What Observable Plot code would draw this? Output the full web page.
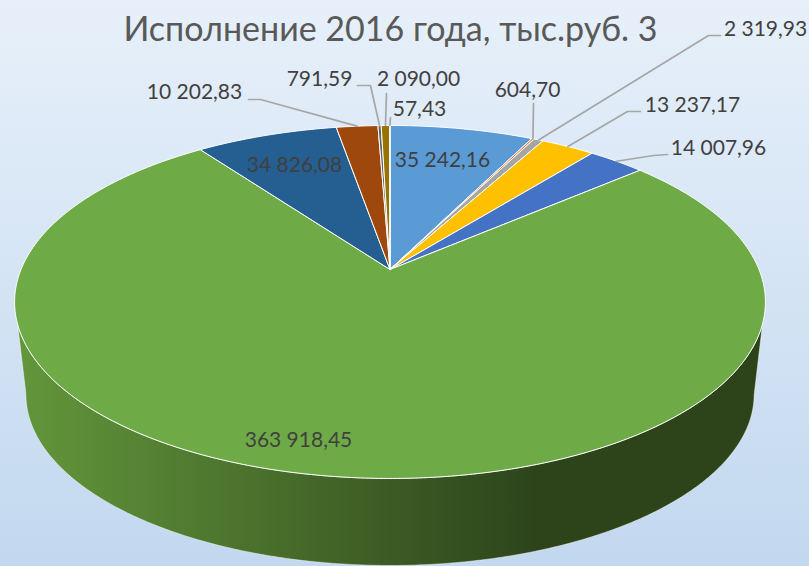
<!DOCTYPE html>
<html>
<head>
<meta charset="utf-8">
<script src="https://cdn.jsdelivr.net/npm/d3@7"></script>
<script src="https://cdn.jsdelivr.net/npm/@observablehq/plot@0.6"></script>
<style>
html,body{margin:0;padding:0;width:809px;height:566px;overflow:hidden;background:linear-gradient(180deg,#E7F0FA 0%,#C2D8EF 100%);}
svg{display:block;}
</style>
</head>
<body>
<script>
const titleText = "Исполнение 2016 года, тыс.руб. 3";
const sliceLabels = ["35 242,16","604,70","2 319,93","13 237,17","14 007,96","363 918,45","34 826,08","10 202,83","791,59","2 090,00","57,43"];
const sliceValues = [35242.16,604.70,2319.93,13237.17,14007.96,363918.45,34826.08,10202.83,791.59,2090.00,57.43];
const sliceColors = ["#5B9BD5","#ED7D31","#A5A5A5","#FFC000","#4472C4","#6EAB47","#255E91","#9E480E","#636363","#997300","#264478"];

// Label placement, one entry per slice, in the same order (canvas units).
const labelX = [442,527,765,692,718,298,294,194,319,418,419];
const labelY = [160,90,29,105,148,440,165,92,79,79,109];
// Leader elbows: [elbow, end at the label]; null means the label sits inside the slice.
const leaderX = [null,[533,533],[708,720],[627,640],[653,667],null,null,[260,248],[370,357],[386,386],[390,390]];
const leaderY = [null,[103,103],[35,35],[111,111],[155,154],null,null,[99,99],[85,85],[93,93],[117,117]];

// Perspective disc geometry
const cx = 389.5, apexY = 269, k = 0.184, A = 170.5, B = 369;
const topPt = (a) => {
  const X = Math.sin(a), Y = Math.cos(a), d = 1 + k * Y;
  return [cx + B * X / d, apexY - A * Y / d];
};
const botS = 0.97, botY = 362.3;
const botPt = (a) => {
  const X = Math.sin(a), Y = Math.cos(a), d = 1 + k * Y;
  return [cx + botS * B * X / d, botY - botS * A * Y / d];
};

const total = d3.sum(sliceValues);
let cum = 0;
const slices = sliceValues.map((v, i) => {
  const a0 = cum / total * 2 * Math.PI;
  cum += v;
  const a1 = cum / total * 2 * Math.PI;
  return {name: sliceLabels[i], a0, a1, mid: (a0 + a1) / 2};
});

const sliceRows = slices.flatMap((s) => {
  const n = Math.max(1, Math.ceil((s.a1 - s.a0) / 0.01));
  const pts = [{name: s.name, x: cx, y: apexY}];
  for (let j = 0; j <= n; ++j) {
    const [x, y] = topPt(s.a0 + (s.a1 - s.a0) * j / n);
    pts.push({name: s.name, x, y});
  }
  pts.push({name: s.name, x: cx, y: apexY});
  return pts;
});

// Visible side wall: the rim between the two silhouette tangents.
const topStart = Math.PI - Math.acos(0.30), botStart = Math.PI - Math.acos(0.18);
const sideRows = [];
for (let a = topStart; a <= 2 * Math.PI - topStart; a += 0.01) {
  const [x, y] = topPt(a); sideRows.push({x, y});
}
for (let a = 2 * Math.PI - botStart; a >= botStart; a -= 0.01) {
  const [x, y] = botPt(a); sideRows.push({x, y});
}
sideRows.push(sideRows[0]);

const leaderRows = slices.flatMap((s, i) => {
  if (!leaderX[i]) return [];
  const [x, y] = topPt(s.mid);
  return [{name: s.name, x, y},
    {name: s.name, x: leaderX[i][0], y: leaderY[i][0]},
    {name: s.name, x: leaderX[i][1], y: leaderY[i][1]}];
});

const labelRows = sliceLabels.map((t, i) => ({t, x: labelX[i], y: labelY[i]}));

const gradient = () => {
  const ns = "http://www.w3.org/2000/svg";
  const defs = document.createElementNS(ns, "defs");
  const g = document.createElementNS(ns, "linearGradient");
  g.setAttribute("id", "sideGrad");
  g.setAttribute("gradientUnits", "userSpaceOnUse");
  g.setAttribute("x1", 20); g.setAttribute("x2", 535);
  g.setAttribute("y1", 0); g.setAttribute("y2", 0);
  [[0, "#62963B"], [1, "#2D441B"]].forEach(([o, c]) => {
    const st = document.createElementNS(ns, "stop");
    st.setAttribute("offset", o); st.setAttribute("stop-color", c);
    g.appendChild(st);
  });
  defs.appendChild(g);
  return defs;
};

const chart = Plot.plot({
  width: 809,
  height: 566,
  margin: 0,
  style: {background: "none"},
  x: {domain: [0, 809], axis: null},
  y: {domain: [566, 0], axis: null},
  color: {domain: sliceLabels, range: sliceColors},
  marks: [
    gradient,
    Plot.line(sideRows, {x: "x", y: "y", fill: "url(#sideGrad)", stroke: "white", strokeWidth: 0.8, strokeOpacity: 0.6}),
    Plot.line(sliceRows, {x: "x", y: "y", z: "name", fill: "name", stroke: "white", strokeWidth: 1, strokeLinejoin: "round"}),
    Plot.line(leaderRows, {x: "x", y: "y", z: "name", stroke: "#A6A6A6", strokeWidth: 1.7}),
    Plot.text(labelRows, {x: "x", y: "y", text: "t", fill: "#404040", fontSize: 21, fontFamily: "Lato, 'Open Sans', sans-serif"}),
    Plot.text([titleText], {x: () => 390, y: () => 30, text: (d) => d, fill: "#595959", fontSize: 34, fontFamily: "Lato, 'Open Sans', sans-serif"})
  ]
});
document.body.appendChild(chart);
</script>
</body>
</html>
